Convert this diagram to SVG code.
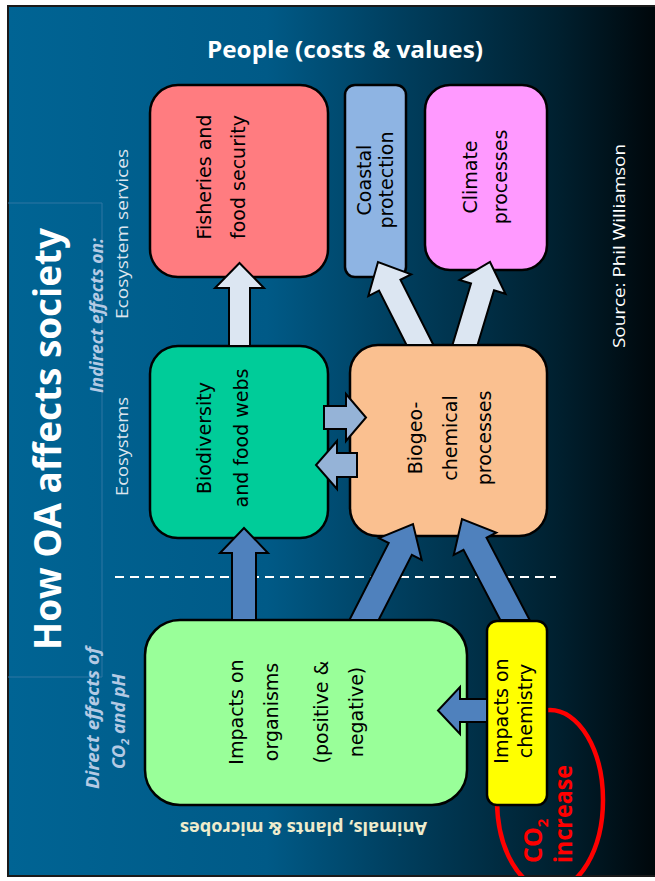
<svg xmlns="http://www.w3.org/2000/svg" width="655" height="881" viewBox="0 0 655 881">
<defs>
<linearGradient id="bg" gradientUnits="userSpaceOnUse" x1="8" y1="0" x2="655" y2="0">
<stop offset="0" stop-color="#006494"/>
<stop offset="0.40" stop-color="#005a87"/>
<stop offset="0.60" stop-color="#003f5f"/>
<stop offset="0.85" stop-color="#00202f"/>
<stop offset="1" stop-color="#00070b"/>
</linearGradient>
<clipPath id="slide"><rect x="8" y="6" width="647" height="870"/></clipPath>
<style>
.box{stroke:#000;stroke-width:2.5}
.bt{font-family:"DejaVu Sans",Verdana,sans-serif;font-size:19px;fill:#000;text-anchor:middle}
.arL{fill:#dce6f2;stroke:#000;stroke-width:2}
.arM{fill:#95b3d7;stroke:#000;stroke-width:2}
.arD{fill:#4f81bd;stroke:#000;stroke-width:2}
.os{font-family:"Open Sans","Liberation Sans",sans-serif}
.lbl{font-family:"Open Sans","Liberation Sans",sans-serif;font-size:17px;fill:#dde5ee}
.ital{font-family:"Open Sans","Liberation Sans",sans-serif;font-size:18px;font-weight:bold;font-style:italic;fill:#b4cae4}
</style>
</defs>
<rect x="0" y="0" width="655" height="881" fill="#ffffff"/>
<rect x="8" y="6" width="660" height="870" fill="url(#bg)" stroke="#1a1a1a" stroke-width="2"/>
<g id="panel" fill="none" stroke="#2f77a3" stroke-width="1">
<polyline points="8,203 102,203 102,677 8,677"/>
</g>
<line x1="115" y1="577" x2="556" y2="577" stroke="#ffffff" stroke-width="2" stroke-dasharray="9 6"/>
<g id="labels">
<text class="os" transform="translate(61,650) rotate(-90)" font-size="38" font-weight="bold" fill="#ffffff" textLength="422" lengthAdjust="spacingAndGlyphs">How OA affects society</text>
<text class="os" x="207" y="58" font-size="23" font-weight="bold" fill="#ffffff" textLength="276" lengthAdjust="spacingAndGlyphs">People (costs &amp; values)</text>
<text class="os" transform="translate(625,348) rotate(-90)" font-size="17" fill="#ffffff" textLength="204" lengthAdjust="spacingAndGlyphs">Source: Phil Williamson</text>
<text class="ital" transform="translate(103,393) rotate(-90)" textLength="155" lengthAdjust="spacingAndGlyphs">Indirect effects on:</text>
<text class="lbl" transform="translate(128,319) rotate(-90)" textLength="170" lengthAdjust="spacingAndGlyphs">Ecosystem services</text>
<text class="lbl" transform="translate(128,496) rotate(-90)" textLength="99" lengthAdjust="spacingAndGlyphs">Ecosystems</text>
<text class="ital" transform="translate(99,789) rotate(-90)" textLength="142" lengthAdjust="spacingAndGlyphs">Direct effects of</text>
<text class="ital" transform="translate(125,769) rotate(-90)">CO<tspan font-size="11" dy="4">2</tspan><tspan dy="-4"> and pH</tspan></text>
<text class="os" transform="translate(427,822) rotate(180)" font-size="18" font-weight="bold" fill="#eeebcc" textLength="247" lengthAdjust="spacingAndGlyphs">Animals, plants &amp; microbes</text>
</g>
<g id="co2-increase">
<ellipse cx="550" cy="800" rx="53" ry="90" fill="none" stroke="#ff0000" stroke-width="4.5" clip-path="url(#slide)"/>
</g>
<g id="fisheries">
<rect class="box" x="150" y="85" width="178" height="192" rx="28" fill="#ff7c80"/>
<text class="bt" transform="translate(211,177) rotate(-90)">Fisheries and</text>
<text class="bt" transform="translate(245,177) rotate(-90)">food security</text>
</g>
<g id="coastal">
<rect class="box" x="345" y="85" width="61" height="192" rx="10" fill="#8eb4e3"/>
<text class="bt" transform="translate(371,180) rotate(-90)">Coastal</text>
<text class="bt" transform="translate(393,180) rotate(-90)">protection</text>
</g>
<g id="climate">
<rect class="box" x="425" y="85" width="122" height="185" rx="25" fill="#ff99ff"/>
<text class="bt" transform="translate(477,177) rotate(-90)">Climate</text>
<text class="bt" transform="translate(507,177) rotate(-90)">processes</text>
</g>
<g id="biodiversity">
<rect class="box" x="150" y="346" width="178" height="192" rx="28" fill="#00cc99"/>
<text class="bt" transform="translate(211,438) rotate(-90)">Biodiversity</text>
<text class="bt" transform="translate(248,438) rotate(-90)">and food webs</text>
</g>
<g id="biogeochemical">
<rect class="box" x="350" y="345" width="197" height="191" rx="28" fill="#fac090"/>
<text class="bt" transform="translate(422,438) rotate(-90)">Biogeo-</text>
<text class="bt" transform="translate(457,438) rotate(-90)">chemical</text>
<text class="bt" transform="translate(491,438) rotate(-90)">processes</text>
</g>
<g id="organisms">
<rect class="box" x="145" y="620" width="322" height="185" rx="35" fill="#99ff99"/>
<text class="bt" transform="translate(243,712) rotate(-90)">Impacts on</text>
<text class="bt" transform="translate(278,712) rotate(-90)">organisms</text>
<text class="bt" transform="translate(328,712) rotate(-90)">(positive &amp;</text>
<text class="bt" transform="translate(363,712) rotate(-90)">negative)</text>
</g>
<g id="chemistry">
<rect class="box" x="487" y="621" width="60" height="184" rx="10" fill="#ffff00"/>
<text class="bt" transform="translate(508,711) rotate(-90)">Impacts on</text>
<text class="bt" transform="translate(532,711) rotate(-90)">chemistry</text>
</g>
<g id="co2-label">
<text class="os" transform="translate(542,863) rotate(-90)" font-size="25" font-weight="bold" fill="#ff0000">CO<tspan font-size="15" dy="6">2</tspan></text>
<text class="os" transform="translate(572,863) rotate(-90)" font-size="25" font-weight="bold" fill="#ff0000" textLength="98" lengthAdjust="spacingAndGlyphs">increase</text>
</g>
<g id="connectors">
<polygon class="arL" points="229,346 229,288 215,288 239.5,263 264,288 250,288 250,346"/>
<polygon class="arL" points="433.45,345 400.45,279.78 411.16,274.36 378,262 368.32,296.04 379.03,290.62 406.54,345"/>
<polygon class="arL" points="477.53,345 493.99,290.36 505.48,293.82 490,262 459.52,279.98 471.01,283.44 452.47,345"/>
<polygon class="arM" points="324,406 346,406 346,394 366,417.5 346,441 346,429 324,429"/>
<polygon class="arM" points="357,453 337,453 337,441 316,465 337,489 337,477 357,477"/>
<polygon class="arD" points="232,620 232,553 220,553 244,528 268,553 256,553 256,620"/>
<polygon class="arD" points="378.6,620 411.85,554.85 421.65,559.85 413,524 378.89,538.03 388.69,543.03 349.4,620"/>
<polygon class="arD" points="529.69,620 486.52,537.75 496.26,532.64 462,519 453.76,554.94 463.5,549.83 500.32,620"/>
<polygon class="arD" points="487,699 460,699 460,687 438,710.5 460,734 460,722 487,722"/>
</g>
</svg>
